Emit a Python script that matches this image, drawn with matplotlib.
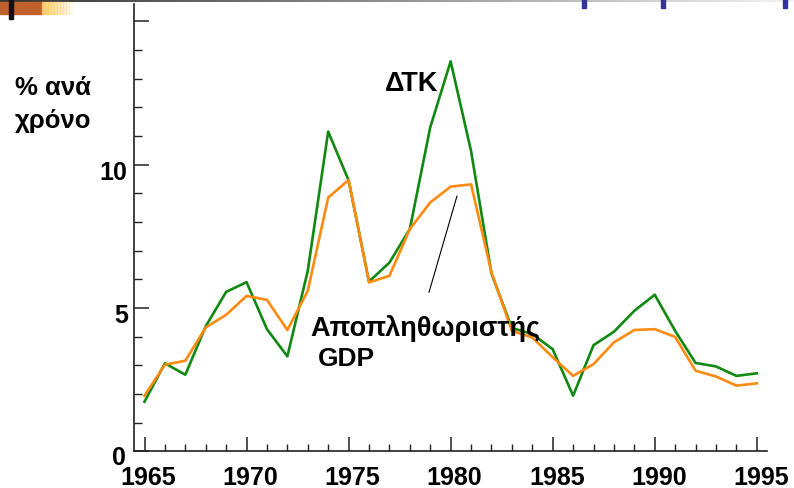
import matplotlib
matplotlib.use("Agg")
import matplotlib.pyplot as plt
import numpy as np
from matplotlib.transforms import ScaledTranslation
from matplotlib.patches import Rectangle

years = list(range(1965, 1996))
cpi = [1.73, 3.07, 2.67, 4.36, 5.56, 5.9, 4.26, 3.31, 6.3, 11.15, 9.45,
       5.92, 6.58, 7.75, 11.3, 13.6, 10.47, 6.2, 4.3, 4.09, 3.56, 1.94,
       3.7, 4.17, 4.9, 5.46, 4.2, 3.08, 2.96, 2.63, 2.72]
gdp_defl = [1.94, 3.02, 3.16, 4.32, 4.76, 5.42, 5.28, 4.23, 5.6, 8.85, 9.46,
            5.89, 6.12, 7.75, 8.68, 9.23, 9.31, 6.24, 4.2, 3.97, 3.28, 2.63,
            3.04, 3.8, 4.23, 4.26, 3.99, 2.81, 2.61, 2.29, 2.37]
y_major = [0, 5, 10, 15]
y_labels = ["0", "5", "10", ""]
x_major = [1965, 1970, 1975, 1980, 1985, 1990, 1995]

plt.rcParams['font.family'] = ['Liberation Sans', 'DejaVu Sans']
W, H = 794, 489
fig = plt.figure(figsize=(W/100, H/100), dpi=100)

def fx(px): return px / W
def fy(py): return 1 - py / H

ax = fig.add_axes([fx(134.3), fy(452.3), fx(767) - fx(134.3), fy(5) - fy(452.3)])
ax.plot(years, cpi, color='#118811', lw=1.9)
ax.plot(years, gdp_defl, color='#ff8a10', lw=1.9)
ax.set_xlim(1964.5, 1995.5)
ax.set_ylim(0, 15.6)
for s in ['top', 'right']:
    ax.spines[s].set_visible(False)
for s in ['left', 'bottom']:
    ax.spines[s].set_linewidth(1.2)
    ax.spines[s].set_color('#222222')

ax.set_yticks(y_major)
ax.set_yticklabels(y_labels, fontsize=18, fontweight='bold')
ax.set_yticks(range(0, 16), minor=True)
ax.set_xticks(x_major)
ax.set_xticklabels([str(v) for v in x_major], fontsize=18, fontweight='bold')
ax.set_xticks(years, minor=True)
ax.tick_params(axis='y', which='major', direction='in', length=11, width=1.1, pad=4, colors='#222222', labelcolor='black')
ax.tick_params(axis='y', which='minor', direction='in', length=5.5, width=1.0, colors='#222222')
ax.tick_params(axis='x', which='major', direction='in', length=10, width=1.1, pad=10, colors='#222222', labelcolor='black')
ax.tick_params(axis='x', which='minor', direction='in', length=5, width=1.0, colors='#222222')
ylabs = ax.get_yticklabels()
for i, lab in enumerate(ylabs):
    dx = -3 if i == 0 else -1
    dy = -3 if i == 0 else -5
    lab.set_transform(lab.get_transform() + ScaledTranslation(dx/100, dy/100, fig.dpi_scale_trans))
for lab in ax.get_xticklabels():
    lab.set_transform(lab.get_transform() + ScaledTranslation(4/100, 0, fig.dpi_scale_trans))

# annotation line
ax.annotate("", xy=(1980.35, 9.0), xytext=(1978.9, 5.45),
            arrowprops=dict(arrowstyle='-', color='black', lw=0.8))

fig.text(fx(385), fy(84), "ΔΤΚ", fontsize=19.5, fontweight='bold', va='center', ha='left')
fig.text(fx(310), fy(329), "Αποπληθωριστής", fontsize=19.5, fontweight='bold', va='center', ha='left')
fig.text(fx(318), fy(359), "GDP", fontsize=19, fontweight='bold', va='center', ha='left')
fig.text(fx(15), fy(88), "% ανά", fontsize=18.5, fontweight='bold', va='center', ha='left')
fig.text(fx(15), fy(121), "χρόνο", fontsize=18.5, fontweight='bold', va='center', ha='left')

# slide decorations
grad = np.linspace(0.2, 0.95, 256).reshape(1, -1)
gax = fig.add_axes([0, fy(3), 1, fy(0) - fy(3)])
gax.imshow(grad, aspect='auto', cmap='gray', vmin=0, vmax=1)
gax.axis('off')
fig.patches.append(Rectangle((fx(0), fy(15)), fx(42), fy(3) - fy(15), transform=fig.transFigure,
                             color='#c0602a', zorder=5))
for i in range(10):
    x0 = 42 + i * 3
    a = 1 - i / 10
    fig.patches.append(Rectangle((fx(x0), fy(15)), fx(3), fy(3) - fy(15), transform=fig.transFigure,
                                 color='#ffcc66', alpha=a * 0.8, zorder=5))
fig.patches.append(Rectangle((fx(9), fy(20)), fx(3.5), fy(0) - fy(20), transform=fig.transFigure,
                             color='#111111', zorder=6))
for bx in [584, 663, 785]:
    fig.patches.append(Rectangle((fx(bx - 2), fy(9)), fx(4), fy(0) - fy(9), transform=fig.transFigure,
                                 color='#333399', zorder=6))

fig.savefig("out.png", dpi=100)
